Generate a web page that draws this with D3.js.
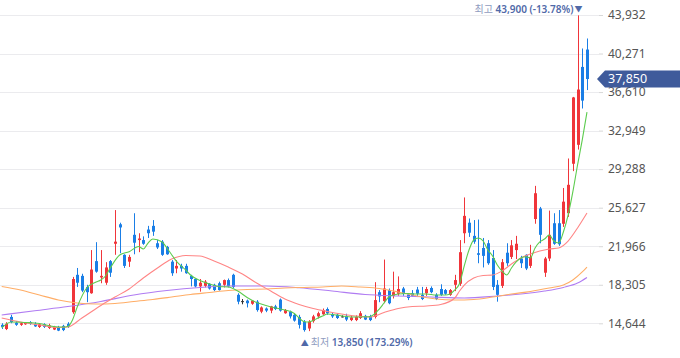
<!DOCTYPE html>
<html><head><meta charset="utf-8">
<script src="https://cdn.jsdelivr.net/npm/d3@7"></script>
<style>html,body{margin:0;padding:0;background:#fff;overflow:hidden}</style>
</head><body>
<svg id="chart" width="680" height="358"></svg>
<script>
// ---- data (daily candles, KRW) ----
const opens = [14500,14100,15250,14700,14500,14550,14750,14600,14300,14550,14200,14050,14300,14400,14600,15700,19250,19150,18100,17500,20550,19000,18500,20550,22200,24050,21150,20500,23050,22550,22550,23550,23900,22250,22400,21900,20500,19850,20100,20100,19150,18850,18150,18200,18400,18300,18450,18300,18750,19250,17350,16750,16800,16500,16700,15750,16050,15850,16250,16900,15600,15750,15450,15250,14800,14150,14850,15300,15500,16000,15500,15450,15300,15350,14950,14950,15150,15350,15300,15250,17600,16750,17800,17250,17450,17950,17400,17500,17850,17350,17500,18000,17350,17900,17800,17350,18300,18400,23200,24200,22950,21300,21800,22250,20850,18300,18200,21350,20950,21600,20800,21150,20100,24550,25550,19450,20800,24150,24150,24100,25100,29800,31600,39000,40650];
const highs = [14650,14750,15450,14850,14750,14750,14850,14750,14650,14650,14600,14400,14400,14500,14750,19050,19900,19350,18300,21600,22350,21600,20450,20650,25400,24200,21200,21150,25100,23200,22900,23900,24450,22550,22550,22000,20650,20650,20300,20300,19250,18900,18850,18750,18450,18400,18600,18800,18900,19350,17500,16950,16900,16850,16850,16250,16150,16300,16400,17000,16000,15850,15600,15450,14950,14950,15450,15750,16050,16150,15650,15550,15400,15550,15350,15400,15800,15450,15450,18550,17800,20700,17950,19550,19100,18100,17500,17800,18100,18100,18100,18150,17500,18350,17900,17900,19250,22550,26600,24600,24450,24500,22750,22550,21600,18750,20750,22250,22550,22950,21050,21200,22100,27700,25700,20950,25350,25100,25400,27500,30300,36150,43900,40750,41700];
const lows = [14100,14000,14650,14400,14400,14500,14500,14300,14200,14200,14100,14000,13900,13900,14200,15550,18100,17600,16650,17450,19450,18450,18300,19050,21150,21300,19900,20000,21200,21400,22100,22750,22950,21700,21050,21150,19150,19400,19550,19350,18150,18050,17650,18050,17850,17700,17750,18050,18050,18000,16450,16450,16150,16400,15750,15600,15700,15600,15900,15750,15550,15100,14800,14150,13850,13900,14700,15100,15450,15450,15150,15050,15200,14850,14850,14850,15050,14950,14850,15100,16650,16550,16450,17000,17250,17250,16850,17150,17250,16850,17250,17500,16850,17250,17350,17250,17700,18200,22250,22850,22200,20350,19950,20200,17800,16700,18000,20100,20750,20750,19900,19700,19900,24100,22250,19050,20550,22100,22000,23800,24750,29100,31150,35050,36800];
const closes = [14300,14600,14750,14500,14650,14700,14600,14350,14550,14300,14450,14300,13950,14000,14350,18850,18500,17750,17600,19750,19550,19150,19950,19450,22400,23750,20100,20950,22300,22700,22200,23200,23350,21850,21150,21200,19400,20100,19850,19400,18850,18150,18500,18600,17950,17800,17800,18750,18150,18100,16700,16750,16550,16800,15900,16150,15850,16250,16000,15850,15900,15300,14900,14500,14000,14800,15300,15600,15900,15600,15300,15150,15300,15000,15200,15250,15600,15000,14950,16850,17200,17950,16550,17600,17900,17450,17050,17250,17450,16950,17900,17600,16950,17350,17450,17800,18750,21400,24850,23250,22400,21150,21050,20350,18100,17350,20450,20350,22050,22200,20350,19850,20950,27000,23050,20800,23050,22200,22150,26200,27800,36100,36850,35800,37850];

// moving averages: [day index, value]
const ma5 = [[0,14200],[2,14770],[5,14720],[8,14625],[11,14340],[13,14290],[14,14340],[15,14960],[16,16190],[18,18000],[20,18570],[21,18760],[22,19140],[23,19900],[25,21130],[27,21450],[29,21940],[30,21700],[31,22270],[32,22650],[34,22370],[35,21800],[37,20560],[38,20090],[39,19710],[40,19230],[42,18710],[44,18380],[46,18140],[48,18090],[50,17710],[52,17100],[54,16620],[56,16340],[58,16100],[60,15910],[62,15580],[63,15150],[64,14820],[65,14770],[66,14910],[67,15150],[68,15340],[69,15530],[71,15430],[73,15290],[75,15240],[77,15260],[78,15290],[79,15530],[80,16000],[81,16570],[82,17140],[83,17330],[84,17430],[86,17480],[88,17430],[90,17430],[92,17330],[94,17330],[95,17430],[96,17810],[97,18430],[98,20090],[99,21610],[100,22560],[101,22750],[102,22460],[103,21610],[104,21040],[105,20180],[106,19610],[107,19230],[108,19900],[109,20470],[110,20850],[111,20970],[112,20850],[113,21800],[114,22370],[115,22650],[116,23030],[117,22460],[118,22270],[119,23320],[120,24930],[121,27120],[122,29680],[123,32060],[124,34700]];
const ma20 = [[0,15150],[4,14770],[8,14480],[12,14250],[14,14290],[17,15150],[21,16340],[24,17140],[27,17900],[30,18950],[33,19900],[36,20750],[39,21090],[42,21040],[45,20560],[48,19990],[51,19330],[54,18470],[57,17710],[60,16950],[63,16430],[66,16050],[69,15770],[72,15530],[75,15340],[78,15240],[81,15670],[84,16050],[87,16240],[90,16290],[93,16430],[96,17050],[97,17710],[98,18280],[100,18950],[102,19190],[104,19230],[106,19610],[108,20280],[110,20850],[112,21230],[114,21510],[116,21700],[118,21800],[120,22460],[122,23700],[124,25120]];
const ma60 = [[0,18140],[4,17810],[8,17330],[12,16860],[16,16570],[20,16480],[24,16530],[28,16720],[32,16910],[36,17140],[40,17380],[44,17570],[48,17760],[52,17860],[56,17900],[60,18000],[64,18050],[68,18090],[72,18190],[76,18090],[80,17950],[84,17620],[88,17240],[92,16950],[96,16860],[100,16910],[104,17140],[108,17430],[112,17670],[116,18000],[119,18280],[121,18760],[123,19520],[124,19990]];
const ma120 = [[0,15430],[7,15840],[14,16240],[21,16720],[28,17330],[35,17760],[42,18050],[49,18190],[56,18190],[63,18020],[70,17710],[77,17380],[84,17240],[91,17140],[98,17050],[105,17240],[110,17430],[115,17710],[119,18050],[122,18470],[124,19000]];

const yTicks = [14644,18305,21966,25627,29288,32949,36610,40271,43932];

// ---- drawing ----
const W = 680, H = 358;
const svg = d3.select("#chart");
const days = closes.map((d, i) => i);
const x = d3.scaleBand().domain(days).range([-0.66, 589.34]).paddingInner(0);
const cx = i => x(i) + x.bandwidth() / 2;
const y = d3.scaleLinear().domain([14644, 43932]).range([323.3, 15]);

const plotRight = 599;

// grid
svg.append("g").selectAll("line").data(yTicks).join("line")
  .attr("x1", 0).attr("x2", plotRight)
  .attr("y1", d => Math.round(y(d)) + 0.5).attr("y2", d => Math.round(y(d)) + 0.5)
  .attr("stroke", "#ebebee").attr("stroke-width", 1);

// axis
const axis = d3.axisRight(y).tickValues(yTicks).tickFormat(d3.format(",")).tickSize(4).tickPadding(5);
const gAxis = svg.append("g").attr("transform", `translate(${plotRight},0)`).call(axis);
gAxis.select(".domain").remove();
gAxis.selectAll(".tick line").attr("stroke", "#d8d8d8");
gAxis.selectAll(".tick text").attr("fill", "#555").attr("font-size", 12)
  .attr("font-family", "'Noto Sans', 'Open Sans', sans-serif");

// candles
const upC = "#f0353a", downC = "#1a7ee6", flatC = "#333";
const colorOf = i => closes[i] > opens[i] ? upC : (closes[i] < opens[i] ? downC : flatC);
const gC = svg.append("g");
gC.selectAll("line").data(days).join("line")
  .attr("x1", i => Math.round(cx(i)) + 0.5).attr("x2", i => Math.round(cx(i)) + 0.5)
  .attr("y1", i => y(highs[i])).attr("y2", i => y(lows[i]))
  .attr("stroke", colorOf).attr("stroke-width", 1);
gC.selectAll("rect").data(days).join("rect")
  .attr("x", i => Math.round(cx(i)) - 1)
  .attr("width", 3)
  .attr("y", i => y(Math.max(opens[i], closes[i])))
  .attr("height", i => Math.max(1, Math.abs(y(opens[i]) - y(closes[i]))))
  .attr("fill", colorOf);

// moving averages
const line = d3.line().x(d => cx(d[0])).y(d => y(d[1])).curve(d3.curveMonotoneX);
[[ma120, "#b07cf2"], [ma60, "#ffad66"], [ma20, "#ff8585"], [ma5, "#5ccc4e"]].forEach(([data, col]) => {
  svg.append("path").datum(data).attr("d", line)
    .attr("fill", "none").attr("stroke", col).attr("stroke-width", 1.1);
});

// high / low annotations
const lastPrice = closes[closes.length - 1];
const hiIdx = highs.indexOf(d3.max(highs));
const loIdx = lows.indexOf(d3.min(lows));
const hi = highs[hiIdx], lo = lows[loIdx];
const fmt = d3.format(",");
const pct = v => (v >= 0 ? "" : "-") + Math.abs(v).toFixed(2) + "%";
const fam = "'Noto Sans', 'Noto Sans CJK KR', sans-serif";

const tHi = svg.append("text").attr("x", cx(hiIdx) - 4).attr("y", 13)
  .attr("text-anchor", "end").attr("font-family", fam).attr("font-size", 10);
tHi.append("tspan").attr("fill", "#8f9cc0").text("최고 ");
tHi.append("tspan").attr("fill", "#5069a8").attr("font-weight", 600)
  .text(`${fmt(hi)} (${pct((lastPrice - hi) / hi * 100)})`);
svg.append("text").attr("x", cx(hiIdx) + 1).attr("y", 12).attr("text-anchor", "middle")
  .attr("font-size", 8).attr("fill", "#5069a8").attr("font-family", fam).text("▼");

const tLo = svg.append("text").attr("x", cx(loIdx) - 3).attr("y", 346)
  .attr("text-anchor", "start").attr("font-family", fam).attr("font-size", 10);
tLo.append("tspan").attr("fill", "#5069a8").attr("font-size", 8).text("▲ ");
tLo.append("tspan").attr("fill", "#8f9cc0").text("최저 ");
tLo.append("tspan").attr("fill", "#5069a8").attr("font-weight", 600)
  .text(`${fmt(lo)} (${pct((lastPrice - lo) / lo * 100)})`);

// current price tag
const py = y(lastPrice);
svg.append("path")
  .attr("d", `M${plotRight - 2},${py} L${plotRight + 6},${py - 8.5} H${W} V${py + 8.5} H${plotRight + 6} Z`)
  .attr("fill", "#3f5b9b");
svg.append("text").attr("x", 608).attr("y", py).attr("dy", "0.35em")
  .attr("fill", "#fff").attr("font-size", 12.5)
  .attr("font-family", "'Noto Sans', 'Open Sans', sans-serif").text(fmt(lastPrice));
</script>
</body></html>
